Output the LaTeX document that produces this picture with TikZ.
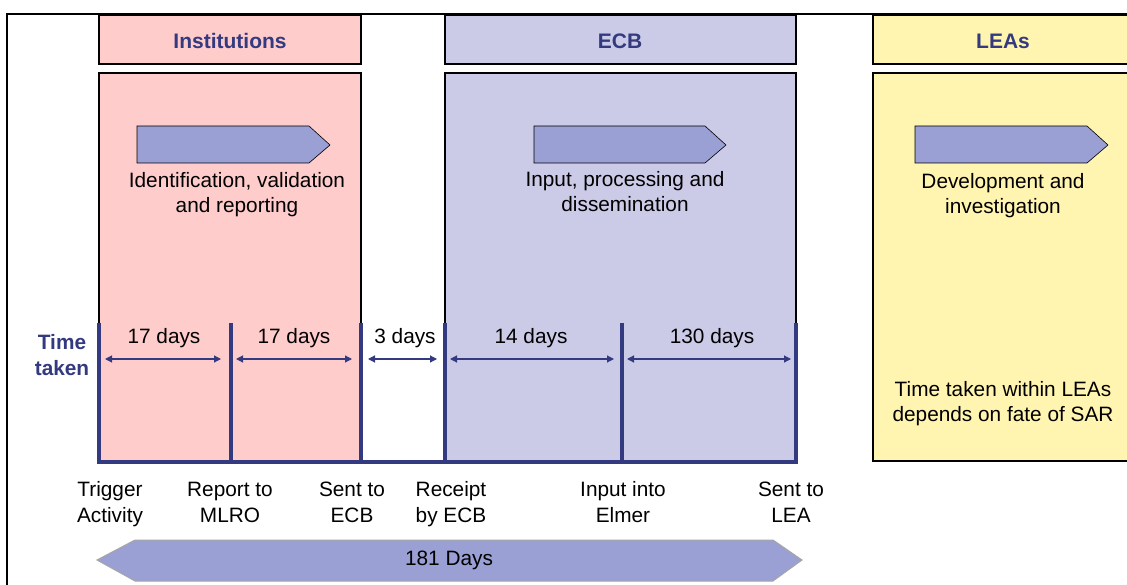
\documentclass[tikz,border=0pt]{standalone}
\usepackage{fontspec}
\setmainfont{Liberation Sans}
\usetikzlibrary{arrows.meta}
\definecolor{navy}{HTML}{333A7F}
\definecolor{pinkfill}{HTML}{FFCCCC}
\definecolor{lavfill}{HTML}{CBCBE8}
\definecolor{yelfill}{HTML}{FFF5B1}
\definecolor{chev}{HTML}{9A9FD4}
\tikzset{
  hdr/.style={draw=black, line width=1.3pt},
  hdrtext/.style={font=\fontsize{21}{21}\selectfont\bfseries, text=navy, inner sep=0pt},
  bodytext/.style={align=center, font=\fontsize{20.8}{25}\selectfont, inner sep=0pt},
  chevron/.style={fill=chev, draw=black, line width=0.6pt},
  tick/.style={draw=navy, line width=3.5pt},
  span/.style={draw=navy, line width=1.2pt, {Triangle[length=7pt,width=7pt]}-{Triangle[length=7pt,width=7pt]}},
  daylbl/.style={font=\fontsize{20.8}{21}\selectfont, inner sep=0pt},
  evlbl/.style={align=center, font=\fontsize{20.8}{26}\selectfont, inner sep=0pt}
}
\begin{document}
\begin{tikzpicture}[x=1pt,y=-1pt]
\useasboundingbox (0,0) rectangle (1127,585);
\fill[white] (0,0) rectangle (1127,585);
% outer frame
\draw[line width=1.5pt] (7,600) -- (7,14) -- (1140,14);
% header boxes
\draw[hdr, fill=pinkfill] (99,15) rectangle (361,64);
\node[hdrtext] (hInst) at (230,41) {Institutions};
\draw[hdr, fill=lavfill] (445,15) rectangle (796,64);
\node[hdrtext] (hECB) at (620,41) {ECB};
\draw[hdr, fill=yelfill] (873,15) rectangle (1140,64);
\node[hdrtext] (hLEA) at (1003,41) {LEAs};
% body boxes
\draw[line width=1.3pt, fill=pinkfill] (99,73) rectangle (361,462);
\draw[line width=1.3pt, fill=lavfill] (445,73) rectangle (796,462);
\draw[line width=1.3pt, fill=yelfill] (873,73) rectangle (1140,461);
% chevrons
\draw[chevron] (137,126) -- (309,126) -- (330,145) -- (309,163) -- (137,163) -- cycle;
\draw[chevron] (534,126) -- (705,126) -- (726,145) -- (705,163) -- (534,163) -- cycle;
\draw[chevron] (915,126) -- (1087,126) -- (1108,145) -- (1087,163) -- (915,163) -- cycle;
% body texts
\node[bodytext] (tInst) at (237,195.5) {Identification, validation\strut\\and reporting\strut};
\node[bodytext] (tECB) at (625,194.5) {Input, processing and\strut\\dissemination\strut};
\node[bodytext] (tLEA) at (1003,196.5) {Development and\strut\\investigation\strut};
\node[bodytext] (tLEA2) at (1003,404) {Time taken within LEAs\strut\\depends on fate of SAR\strut};
% time axis
\node[font=\fontsize{20.8}{26}\selectfont\bfseries, text=navy, align=center, inner sep=0pt] (tt) at (62,357) {Time\strut\\taken\strut};
\coordinate (t0) at (99,323);
\coordinate (t1) at (231,323);
\coordinate (t2) at (361,323);
\coordinate (t3) at (445,323);
\coordinate (t4) at (622,323);
\coordinate (t5) at (796,323);
\coordinate (b0) at (99,462);
\coordinate (b5) at (796,462);
\foreach \c in {t0,t1,t2,t3,t4,t5}{
  \draw[tick] (\c) -- (\c |- b0);
}
\draw[draw=navy, line width=4.5pt] ([xshift=-1.75pt]b0) -- ([xshift=1.75pt]b5);
% spans
\coordinate (s0r) at (105,359); \coordinate (s1l) at (221,359);
\coordinate (s1r) at (236,359); \coordinate (s2l) at (352,359);
\coordinate (s2r) at (368,359); \coordinate (s3l) at (437,359);
\coordinate (s3r) at (450,359); \coordinate (s4l) at (614,359);
\coordinate (s4r) at (627,359); \coordinate (s5l) at (791,359);
\draw[span] (s0r) -- (s1l);
\draw[span] (s1r) -- (s2l);
\draw[span] (s2r) -- (s3l);
\draw[span] (s3r) -- (s4l);
\draw[span] (s4r) -- (s5l);
\node[daylbl] (d1) at (164,338) {17 days};
\node[daylbl] (d2) at (294,338) {17 days};
\node[daylbl] (d3) at (405,338) {3 days};
\node[daylbl] (d4) at (531,338) {14 days};
\node[daylbl] (d5) at (712,338) {130 days};
% event labels
\node[evlbl] (e0) at (110,504) {Trigger\strut\\Activity\strut};
\node[evlbl] (e1) at (230,504) {Report to\strut\\MLRO\strut};
\node[evlbl] (e2) at (352,504) {Sent to\strut\\ECB\strut};
\node[evlbl] (e3) at (451,504) {Receipt\strut\\by ECB\strut};
\node[evlbl] (e4) at (623,504) {Input into\strut\\Elmer\strut};
\node[evlbl] (e5) at (791,504) {Sent to\strut\\LEA\strut};
% total arrow
\draw[fill=chev, draw=gray!70, line width=1pt] (97,560) -- (135,540) -- (773,540) -- (802,560) -- (773,581) -- (135,581) -- cycle;
\node[daylbl] (tot) at (449,560) {181 Days};
\end{tikzpicture}
\end{document}
